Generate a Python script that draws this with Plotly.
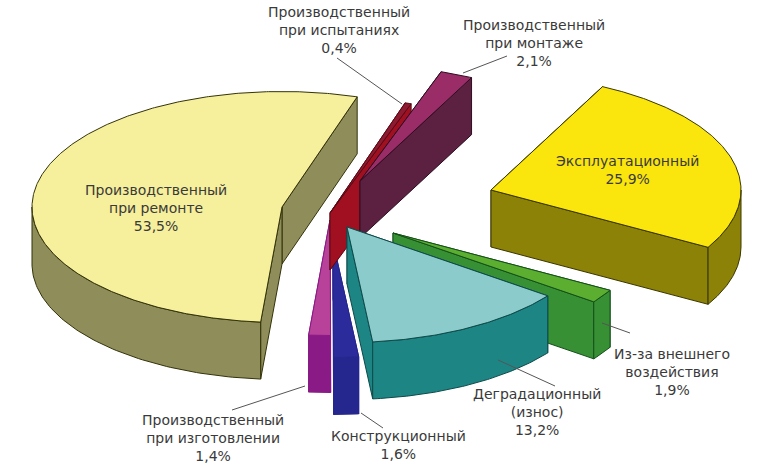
import numpy as np
import plotly.graph_objects as go

# --- data (counter-clockwise from the first slice) ---
categories = ["Производственный<br>при ремонте", "Производственный<br>при изготовлении", "Конструкционный",
              "Деградационный<br>(износ)", "Из-за внешнего<br>воздействия", "Эксплуатационный",
              "Производственный<br>при монтаже", "Производственный<br>при испытаниях"]
shares = [53.5, 1.4, 1.6, 13.2, 1.9, 25.9, 2.1, 0.4]
share_labels = ["53,5%", "1,4%", "1,6%", "13,2%", "1,9%", "25,9%", "2,1%", "0,4%"]

# --- styling / layout ---
top_colors = ["#F6EF9C", "#B8429A", "#2B2B9B", "#8CCBCC", "#5BAE30", "#FAE60C", "#9A2C68", "#8C1A30"]
wall_colors = ["#8F8D59", "#8A1A85", "#26268F", "#1E8585", "#389035", "#8C8208", "#5C2040", "#A01020"]
edge_colors = ["#33330A", "#8A1A85", "#26268F", "#0E4A4A", "#14501A", "#3A3600", "#2E0E20", "#5A0A14"]
apex_x = [282, 330, 333, 347, 393, 491, 360, 330]
apex_y = [207, 220, 242, 227, 233, 190, 181, 213]
draw_order = [0, 1, 2, 7, 6, 5, 4, 3]
START_DEG, RX, RY, DEPTH = 72.5, 250, 115.5, 57
FONT = "DejaVu Sans"
FONT_SIZE = 14
TEXT_COLOR = "#3a3a3a"
label_x = [156, 213, 398, 537, 672, 627, 534, 339]
label_y = [208, 438, 445, 412, 372, 170, 43, 30]
leader_x = [None, (232, 305), (361, 383), (498, 555), (602, 630), None, (507, 463), (337, 402)]
leader_y = [None, (410, 386), (413, 428), (360, 386), (323, 333), None, (56, 73), (58, 104)]

fig = go.Figure()


def poly(xs, ys, fill, edge):
    fig.add_trace(go.Scatter(x=list(xs) + [xs[0]], y=list(ys) + [ys[0]], mode="lines", fill="toself",
                             fillcolor=fill, line=dict(color=edge, width=1), hoverinfo="skip", showlegend=False))


def rim(cx, cy, deg):
    rad = np.radians(deg)
    return cx + RX * np.cos(rad), cy - RY * np.sin(rad)


bounds = START_DEG + np.concatenate(([0], np.cumsum(shares))) * 3.6

for i in draw_order:
    t0, t1 = bounds[i], bounds[i + 1]
    cx, cy = apex_x[i], apex_y[i]
    # cut faces, the one further back first
    for t in sorted((t0, t1), key=lambda d: rim(cx, cy, d)[1]):
        px, py = rim(cx, cy, t)
        poly([cx, px, px, cx], [cy, py, py + DEPTH, cy + DEPTH], wall_colors[i], edge_colors[i])
    # visible part of the outer wall
    for lo, hi in ((180, 360), (540, 720)):
        a, b = max(t0, lo), min(t1, hi)
        if b > a:
            ts = np.linspace(a, b, 80)
            xs, ys = rim(cx, cy, ts)
            poly(list(xs) + list(xs[::-1]), list(ys) + list(ys[::-1] + DEPTH), wall_colors[i], edge_colors[i])
    # top surface
    ts = np.linspace(t0, t1, max(4, int((t1 - t0) * 2)))
    xs, ys = rim(cx, cy, ts)
    poly([cx] + list(xs), [cy] + list(ys), top_colors[i], edge_colors[i])

for lx, ly in zip(leader_x, leader_y):
    if lx:
        fig.add_trace(go.Scatter(x=lx, y=ly, mode="lines", line=dict(color="#555555", width=1),
                                 hoverinfo="skip", showlegend=False))

for i, cat in enumerate(categories):
    fig.add_annotation(x=label_x[i], y=label_y[i], xref="x", yref="y", text=f"{cat}<br>{share_labels[i]}",
                       showarrow=False, align="center", font=dict(family=FONT, size=FONT_SIZE, color=TEXT_COLOR))

fig.update_layout(width=780, height=470, margin=dict(l=0, r=0, t=0, b=0), paper_bgcolor="white",
                  plot_bgcolor="white", showlegend=False,
                  xaxis=dict(range=[0, 780], visible=False, fixedrange=True),
                  yaxis=dict(range=[470, 0], visible=False, fixedrange=True))
fig.write_html("out.html", config={"displayModeBar": False},
               post_script="document.body.style.margin='0';document.body.style.overflow='hidden';")
